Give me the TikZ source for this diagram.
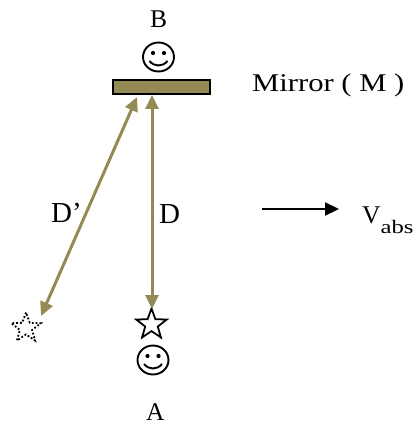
\documentclass[tikz,border=0pt]{standalone}
\usepackage{fontspec}
\setmainfont{Liberation Serif}
\usetikzlibrary{arrows.meta,shapes.geometric}
\definecolor{olivetan}{HTML}{948A54}
\tikzset{
  lbl/.style={anchor=base west, inner sep=0pt, font=\fontsize{25.5}{30}\selectfont},
  biglbl/.style={anchor=base west, inner sep=0pt, font=\fontsize{29}{34}\selectfont},
  ray/.style={draw=olivetan, line width=3pt, {Triangle[length=14pt,width=13pt,fill=olivetan]}-{Triangle[length=14pt,width=13pt,fill=olivetan]}},
  motion/.style={draw=black, line width=2.2pt, -{Triangle[length=14pt,width=13pt]}},
  mirrorbox/.style={draw=black, line width=2pt, fill=olivetan},
  starshape/.style={draw=black, line width=1.8pt, star, star points=5, star point ratio=2.42, minimum size=32pt, inner sep=0pt}
}
\newcommand{\smiley}[2]{%
  \draw[line width=1.9pt] (#1,#2) circle[x radius=15.5pt, y radius=14.5pt];
  \fill (#1-5.5,#2-4) circle[radius=2.1pt];
  \fill (#1+5.5,#2-4) circle[radius=2.1pt];
  \draw[line width=1.9pt] (#1-9,#2+4) .. controls (#1-4,#2+10) and (#1+4,#2+10) .. (#1+9,#2+4);
}
\begin{document}
\begin{tikzpicture}[x=1pt,y=-1pt]
\useasboundingbox (0,0) rectangle (416,425);
% mirror
\draw[mirrorbox] (113,80) rectangle (210,94);
\coordinate (mtop) at (152,95);
\coordinate (mslant) at (137,97);
% B
\node[lbl] (B) at (150,28) {B};
\smiley{158.5}{57}
% stars
\node[starshape] (starA) at (151.5,324.5) {};
\node[starshape, dotted, minimum size=31pt] (starD) at (26,328) {};
% smiley A
\smiley{153}{360}
\node[lbl] (A) at (146,420) {A};
% rays
\coordinate (Abot) at (152,309);
\coordinate (Dbot) at (41,316);
\draw[ray] (Abot) -- (mtop);
\draw[ray] (Dbot) -- (mslant);
\node[biglbl] (D) at (159,223) {D};
\node[biglbl] (Dp) at (51,222) {D’};
% mirror label
\node[lbl, xscale=1.2, transform shape] (M) at (252,92) {Mirror ( M )};
% motion arrow
\coordinate (v1) at (262,209);
\coordinate (v2) at (339,209);
\draw[motion] (v1) -- (v2);
\node[lbl] (V) at (362,223) {V\raisebox{-10pt}{\fontsize{19}{22}\selectfont\scalebox{1.3}[1]{abs}}};
\end{tikzpicture}
\end{document}
